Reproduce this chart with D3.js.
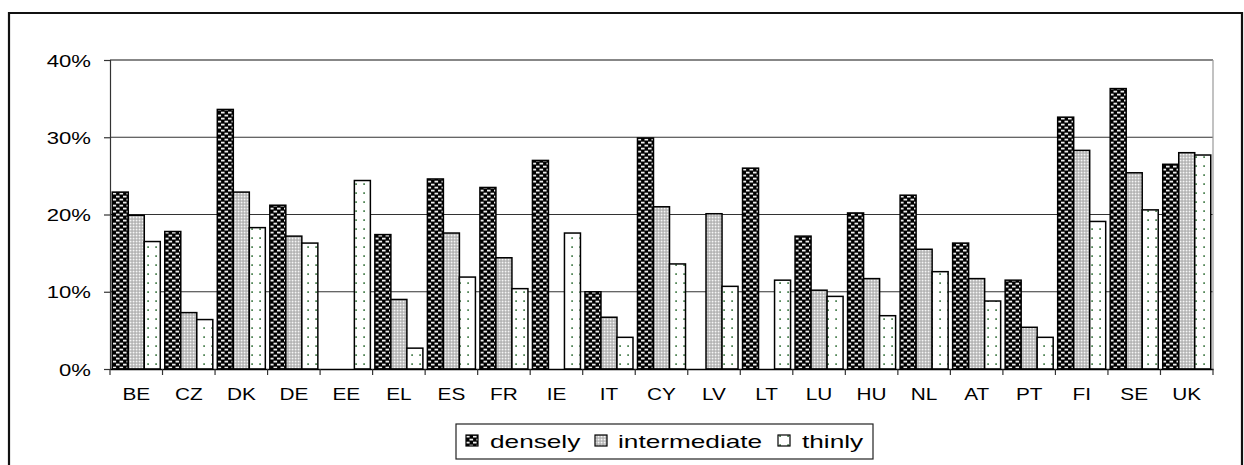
<!DOCTYPE html>
<html>
<head>
<meta charset="utf-8">
<script src="https://cdn.jsdelivr.net/npm/d3@7"></script>
<style>
  html, body { margin: 0; padding: 0; background: #fff; }
  svg { display: block; font-family: "Liberation Sans", Arial, sans-serif; }
</style>
</head>
<body>
<svg id="chart" width="1244" height="465"></svg>
<script>
// ---- data ----
const categories = ["BE","CZ","DK","DE","EE","EL","ES","FR","IE","IT","CY","LV","LT","LU","HU","NL","AT","PT","FI","SE","UK"];
const seriesNames = ["densely","intermediate","thinly"];
const densely      = [22.9,17.8,33.6,21.2,null,17.4,24.6,23.5,27.0,10.0,29.9,null,26.0,17.2,20.2,22.5,16.3,11.5,32.6,36.3,26.5];
const intermediate = [19.9, 7.3,22.9,17.2,null, 9.0,17.6,14.4,null, 6.7,21.0,20.1,null,10.2,11.7,15.5,11.7, 5.4,28.3,25.4,28.0];
const thinly       = [16.5, 6.4,18.3,16.3,24.4, 2.7,11.9,10.4,17.6, 4.1,13.6,10.7,11.5, 9.4, 6.9,12.6, 8.8, 4.1,19.1,20.6,27.7];
const yTicks = [0, 0.1, 0.2, 0.3, 0.4];

const seriesValues = [densely, intermediate, thinly];
const SX = 1.3; // horizontal text stretch seen in reference

const svg = d3.select("#chart");

// ---- patterns ----
const defs = svg.append("defs");
const pd = defs.append("pattern").attr("id","p-dense").attr("patternUnits","userSpaceOnUse")
  .attr("width",7).attr("height",6);
pd.append("rect").attr("width",7).attr("height",6).attr("fill","#000");
pd.append("rect").attr("x",0.5).attr("y",0.7).attr("width",3.6).attr("height",1.8).attr("fill","#eee");
pd.append("rect").attr("x",4).attr("y",3.7).attr("width",3.6).attr("height",1.8).attr("fill","#eee");
pd.append("rect").attr("x",-3).attr("y",3.7).attr("width",3.6).attr("height",1.8).attr("fill","#eee");

const pi = defs.append("pattern").attr("id","p-inter").attr("patternUnits","userSpaceOnUse")
  .attr("width",3).attr("height",3);
pi.append("rect").attr("width",3).attr("height",3).attr("fill","#a8a8a8");
pi.append("rect").attr("x",0.6).attr("y",0.6).attr("width",1.9).attr("height",1.9).attr("fill","#f6f6f6");

const pt = defs.append("pattern").attr("id","p-thin").attr("patternUnits","userSpaceOnUse")
  .attr("width",8).attr("height",9);
pt.append("rect").attr("width",8).attr("height",9).attr("fill","#fff");
pt.append("rect").attr("x",3.3).attr("y",3.3).attr("width",1.6).attr("height",1.6).attr("fill","#2a6a30");

const fills = ["url(#p-dense)","url(#p-inter)","url(#p-thin)"];

// ---- outer frame ----
svg.append("path")
  .attr("d","M9,470 L9,13 L1242,13 L1242,470")
  .attr("fill","none").attr("stroke","#111").attr("stroke-width",2.2);

// ---- scales ----
const pLeft = 110, pRight = 1213, pTop = 60, pBottom = 369;
const x = d3.scaleBand().domain(categories).range([pLeft, pRight]).paddingInner(0).paddingOuter(0);
const xs = d3.scaleBand().domain(seriesNames).range([2.25, x.bandwidth() - 2.25]).padding(0);
const y = d3.scaleLinear().domain([0, 0.4]).range([pBottom, pTop]);

// ---- gridlines ----
svg.append("g").selectAll("line").data(yTicks.filter(d => d > 0)).join("line")
  .attr("x1", pLeft).attr("x2", pRight)
  .attr("y1", d => y(d)).attr("y2", d => y(d))
  .attr("stroke", d => d === 0.4 ? "#111" : "#333").attr("stroke-width", 1.2);

// right border of plot area
svg.append("line").attr("x1", pRight).attr("x2", pRight).attr("y1", pTop).attr("y2", pBottom)
  .attr("stroke","#999").attr("stroke-width",1.2);

// ---- bars ----
const rows = [];
categories.forEach((c, i) => {
  seriesNames.forEach((s, j) => {
    const v = seriesValues[j][i];
    if (v !== null && v !== undefined) rows.push({c, s, j, v: v / 100});
  });
});
svg.append("g").selectAll("rect").data(rows).join("rect")
  .attr("x", d => x(d.c) + xs(d.s))
  .attr("y", d => y(d.v))
  .attr("width", xs.bandwidth())
  .attr("height", d => y(0) - y(d.v))
  .attr("fill", d => fills[d.j])
  .attr("stroke", "#000").attr("stroke-width", 1.5);

// ---- y axis ----
const yAxis = svg.append("g").attr("transform", `translate(${pLeft},0)`)
  .call(d3.axisLeft(y).tickValues(yTicks).tickFormat(d3.format(".0%")).tickSize(6).tickPadding(0));
yAxis.select(".domain").attr("stroke","#333").attr("stroke-width",1.2);
yAxis.selectAll(".tick line").attr("stroke","#333").attr("stroke-width",1.2);
yAxis.selectAll(".tick text")
  .attr("x", -19 / SX).attr("dy", 0).attr("y", 6)
  .attr("transform", `scale(${SX},1)`)
  .attr("font-size", 17).attr("fill", "#000")
  .attr("font-family", "Liberation Sans, Arial, sans-serif");

// ---- x axis ----
const xAxis = svg.append("g").attr("transform", `translate(0,${pBottom})`)
  .call(d3.axisBottom(x).tickSize(0).tickPadding(0));
xAxis.select(".domain").attr("stroke","#000").attr("stroke-width",1.4);
xAxis.selectAll(".tick text")
  .attr("y", 31).attr("dy", 0)
  .attr("transform", `scale(${SX},1)`)
  .attr("font-size", 16).attr("fill", "#000")
  .attr("font-family", "Liberation Sans, Arial, sans-serif");
// boundary tick marks
const bounds = categories.map(c => x(c)).concat([pRight]);
svg.append("g").selectAll("line").data(bounds).join("line")
  .attr("x1", d => d).attr("x2", d => d).attr("y1", pBottom).attr("y2", pBottom + 6)
  .attr("stroke","#333").attr("stroke-width",1.2);

// ---- legend ----
const LSX = 1.38;
const lg = svg.append("g");
lg.append("rect").attr("x",456).attr("y",424).attr("width",417).attr("height",35)
  .attr("fill","#fff").attr("stroke","#222").attr("stroke-width",1.2);
const legendPos = [{sw:466, tx:490}, {sw:595, tx:618}, {sw:778, tx:802}];
seriesNames.forEach((s, j) => {
  lg.append("rect").attr("x", legendPos[j].sw).attr("y", 435).attr("width", 12).attr("height", 11)
    .attr("fill", fills[j]).attr("stroke","#000").attr("stroke-width",1.2);
  lg.append("text").attr("transform", `translate(${legendPos[j].tx},448) scale(${LSX},1)`)
    .attr("font-size", 19).attr("fill","#000").text(s);
});
</script>
</body>
</html>
